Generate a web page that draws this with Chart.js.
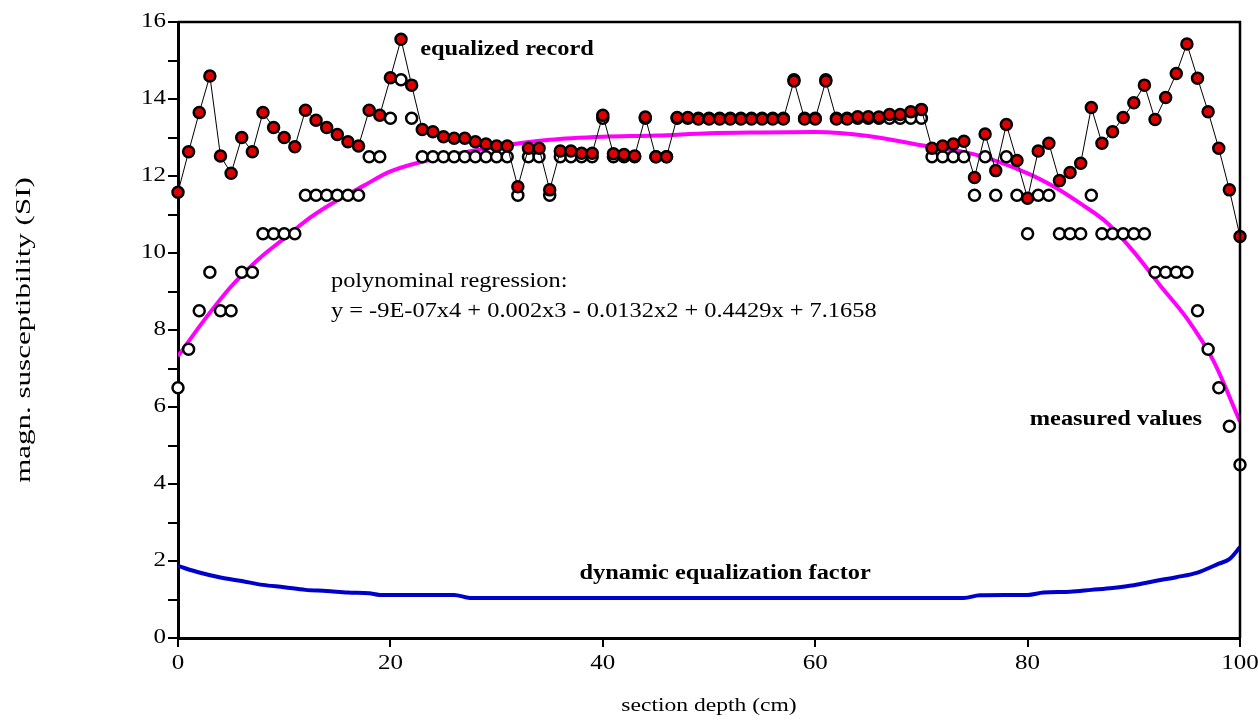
<!DOCTYPE html>
<html>
<head>
<meta charset="utf-8">
<script src="https://cdn.jsdelivr.net/npm/chart.js@4/dist/chart.umd.min.js"></script>
<style>
  html, body { margin: 0; padding: 0; background: #fff; }
  #wrap { width: 1258px; height: 720px; }
</style>
</head>
<body>
<div id="wrap"><canvas id="chart" width="1258" height="720"></canvas></div>
<script>
// Depth positions (cm)
const depth = [0,1,2,3,4,5,6,7,8,9,10,11,12,13,14,15,16,17,18,19,20,21,22,23,24,25,26,27,28,29,30,31,32,33,34,35,36,37,38,39,40,41,42,43,44,45,46,47,48,49,50,51,52,53,54,55,56,57,58,59,60,61,62,63,64,65,66,67,68,69,70,71,72,73,74,75,76,77,78,79,80,81,82,83,84,85,86,87,88,89,90,91,92,93,94,95,96,97,98,99,100];

// Measured values (white circles)
const measured = [6.5,7.5,8.5,9.5,8.5,8.5,9.5,9.5,10.5,10.5,10.5,10.5,11.5,11.5,11.5,11.5,11.5,11.5,12.5,12.5,
  13.5,14.5,13.5,12.5,12.5,12.5,12.5,12.5,12.5,12.5,12.5,12.5,11.5,12.5,12.5,11.5,12.5,12.5,12.5,12.5,
  13.5,12.5,12.5,12.5,13.5,12.5,12.5,13.5,13.5,13.5,13.5,13.5,13.5,13.5,13.5,13.5,13.5,13.5,14.5,13.5,
  13.5,14.5,13.5,13.5,13.5,13.5,13.5,13.5,13.5,13.5,13.5,12.5,12.5,12.5,12.5,11.5,12.5,11.5,12.5,11.5,
  10.5,11.5,11.5,10.5,10.5,10.5,11.5,10.5,10.5,10.5,10.5,10.5,9.5,9.5,9.5,9.5,8.5,7.5,6.5,5.5,4.5];

// Equalized record (red circles)
const equalized = [11.58,12.63,13.65,14.6,12.52,12.07,13.0,12.63,13.65,13.26,13.0,12.76,13.71,13.45,13.26,13.08,12.89,12.78,13.71,13.58,
  14.55,15.55,14.36,13.21,13.15,13.02,12.98,12.98,12.89,12.83,12.78,12.78,11.72,12.72,12.72,11.64,12.65,12.65,12.59,12.59,
  13.58,12.58,12.56,12.52,13.53,12.5,12.5,13.52,13.52,13.48,13.48,13.48,13.48,13.48,13.48,13.48,13.48,13.48,14.47,13.48,
  13.48,14.47,13.48,13.48,13.54,13.54,13.53,13.6,13.6,13.67,13.73,12.72,12.78,12.83,12.9,11.96,13.09,12.14,13.34,12.4,
  11.42,12.65,12.85,11.88,12.09,12.33,13.78,12.85,13.15,13.52,13.9,14.36,13.47,14.04,14.66,15.43,14.54,13.67,12.72,11.64,10.43];

// Polynomial regression curve (magenta)
const regDepth = [0,2.5,5,7.5,10,12.5,15,17.5,20,25,30,35,40,45,50,55,60,65,70,75,80,82.5,85,87.5,90,92.5,95,97.5,100];
const regValue = [7.32,8.27,9.13,9.82,10.38,10.93,11.37,11.75,12.12,12.5,12.76,12.94,13.02,13.05,13.11,13.13,13.14,13.04,12.8,12.56,12.07,11.72,11.28,10.78,10.03,9.15,8.3,7.2,5.62];

// Dynamic equalization factor (blue)
const facDepth = [0,2,4,6,8,10,12,14,16,18,19,26,27.5,74,75.5,80,81.5,84,86,88,90,92,94,96,98,99,100];
const facValue = [1.87,1.7,1.57,1.48,1.38,1.32,1.25,1.22,1.18,1.16,1.12,1.12,1.04,1.04,1.11,1.12,1.18,1.2,1.25,1.3,1.37,1.48,1.58,1.7,1.93,2.05,2.36];

// Labels inside the plot
const notes = [
  {text:'equalized record', x:22.8, y:15.27, bold:true},
  {text:'measured values', x:80.2, y:5.66, bold:true},
  {text:'dynamic equalization factor', x:37.8, y:1.66, bold:true},
  {text:'polynominal regression:', x:14.4, y:9.25, bold:false},
  {text:'y = -9E-07x4 + 0.002x3 - 0.0132x2 + 0.4429x + 7.1658', x:14.4, y:8.47, bold:false}
];
const xTitle = 'section depth (cm)';
const yTitle = 'magn. susceptibility (SI)';

const pts = (xs, ys) => xs.map((x, i) => ({x: x, y: ys[i]}));
const serif = '"Liberation Serif", "Times New Roman", serif';

// the source picture has its text widened, so labels are drawn stretched
function wideText(ctx, text, x, y, align, sx) {
  ctx.save();
  ctx.translate(x, y);
  ctx.scale(sx, 1);
  ctx.textAlign = align;
  ctx.fillText(text, 0, 0);
  ctx.restore();
}

const extras = {
  id: 'extras',
  afterDraw(chart) {
    const {ctx, chartArea: a, scales} = chart;
    ctx.save();
    // top/right frame
    ctx.strokeStyle = '#000';
    ctx.lineWidth = 2.5;
    ctx.beginPath();
    ctx.moveTo(a.left, a.top); ctx.lineTo(a.right, a.top); ctx.lineTo(a.right, a.bottom);
    ctx.stroke();

    ctx.fillStyle = '#000';
    ctx.textBaseline = 'middle';
    notes.forEach(n => {
      ctx.font = (n.bold ? 'bold ' : '') + '20px ' + serif;
      wideText(ctx, n.text, scales.x.getPixelForValue(n.x), scales.y.getPixelForValue(n.y), 'left', 1.22);
    });

    // tick labels
    ctx.font = '20px ' + serif;
    scales.y.ticks.forEach(t => {
      if (t.value % 2 === 0) wideText(ctx, String(t.value), a.left - 12, scales.y.getPixelForValue(t.value), 'right', 1.25);
    });
    scales.x.ticks.forEach(t => {
      wideText(ctx, String(t.value), scales.x.getPixelForValue(t.value), a.bottom + 26, 'center', 1.25);
    });

    // axis titles
    ctx.font = '19px ' + serif;
    wideText(ctx, xTitle, (a.left + a.right) / 2, 706, 'center', 1.24);
    ctx.save();
    ctx.translate(25, (a.top + a.bottom) / 2);
    ctx.rotate(-Math.PI / 2);
    ctx.font = '20px ' + serif;
    wideText(ctx, yTitle, 0, 0, 'center', 1.55);
    ctx.restore();
    ctx.restore();
  }
};

new Chart(document.getElementById('chart'), {
  type: 'scatter',
  data: {
    datasets: [
      {label:'equalized record', data: pts(depth, equalized), showLine:true, borderColor:'#000', borderWidth:1,
       pointRadius:5.5, pointBorderWidth:2.5, pointBackgroundColor:'#dd0000', pointBorderColor:'#000', clip:false},
      {label:'measured values', data: pts(depth, measured), showLine:false,
       pointRadius:5.5, pointBorderWidth:2.5, pointBackgroundColor:'#fff', pointBorderColor:'#000', clip:false},
      {label:'regression', data: pts(regDepth, regValue), showLine:true, borderColor:'#ff00ff', borderWidth:4,
       pointRadius:0, cubicInterpolationMode:'monotone'},
      {label:'factor', data: pts(facDepth, facValue), showLine:true, borderColor:'#0000cc', borderWidth:4,
       pointRadius:0, cubicInterpolationMode:'monotone'}
    ]
  },
  options: {
    responsive: false,
    animation: false,
    layout: {padding: {left: 0, right: 18, top: 22, bottom: 0}},
    plugins: {legend: {display: false}, tooltip: {enabled: false}},
    scales: {
      x: {
        type: 'linear', min: 0, max: 100,
        afterFit: s => { s.height = 82; },
        border: {display: true, color: '#000', width: 3},
        grid: {drawOnChartArea: false, drawTicks: true, tickLength: 9, color: '#000', lineWidth: 2},
        ticks: {stepSize: 20, display: false}
      },
      y: {
        type: 'linear', min: 0, max: 16,
        afterFit: s => { s.width = 178; },
        border: {display: true, color: '#000', width: 3},
        grid: {drawOnChartArea: false, drawTicks: true, tickLength: 10, color: '#000', lineWidth: 2},
        ticks: {stepSize: 1, display: false}
      }
    }
  },
  plugins: [extras]
});
</script>
</body>
</html>
